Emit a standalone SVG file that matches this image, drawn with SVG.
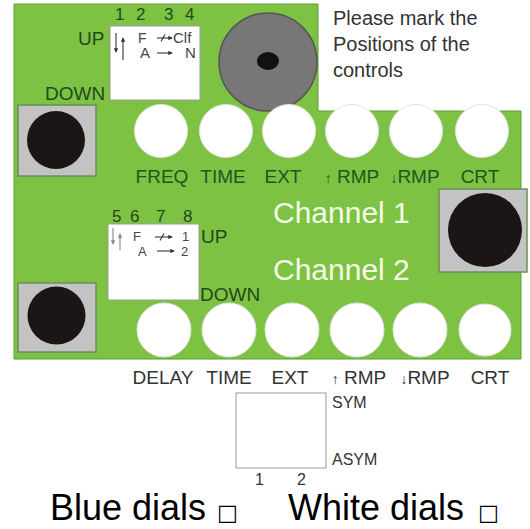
<svg xmlns="http://www.w3.org/2000/svg" width="530" height="529" viewBox="0 0 530 529">
<defs>
<style>
text{font-family:"Liberation Sans",Arial,"DejaVu Sans",sans-serif}
.board{fill:#7dc242;stroke:#5f9e34;stroke-width:1}
.sq{fill:#c3c3c3;stroke:#6b8f55;stroke-width:1.5}
.knob{fill:#1b1515}
.dial{fill:#fff;stroke:#e2e2e2;stroke-width:1}
.lbl1{font-size:19px;fill:#24551f;text-anchor:middle}
.lbl2{font-size:19px;fill:#333;text-anchor:middle}
.sw{fill:#fff;stroke:#9a9a9a;stroke-width:1}
.num{font-size:17px;fill:#1f4a1a}
.tag{font-size:19px;fill:#1f4a1a}
.in{font-size:15px;fill:#444}
.ch{font-size:30px;fill:#f4fbe8}
.sym{font-size:16px;fill:#333}
.note{font-size:20px;fill:#333}
.big{font-size:36px;fill:#000}
.box{font-family:"DejaVu Sans",sans-serif;font-size:22px;fill:#000}
.ar{font-size:14px;font-weight:bold}
.ad{stroke:#333;stroke-width:1.1;fill:none}
.ag{stroke:#888;stroke-width:1.1;fill:none}
</style>
<marker id="ahd" viewBox="0 0 6 6" refX="5" refY="3" markerWidth="4" markerHeight="4" orient="auto"><path d="M0,0 L6,3 L0,6 Z" fill="#333"/></marker>
<marker id="ahg" viewBox="0 0 6 6" refX="5" refY="3" markerWidth="4" markerHeight="4" orient="auto"><path d="M0,0 L6,3 L0,6 Z" fill="#888"/></marker>
</defs>
<rect width="530" height="529" fill="#fff"/>
<g id="board">
<path class="board" d="M14,4 H318 V111 H521 V359 H14 Z"/>
</g>
<g id="note">
<text class="note" x="333" y="25">Please mark the</text>
<text class="note" x="333" y="51">Positions of the</text>
<text class="note" x="333" y="77">controls</text>
</g>
<g id="speaker">
<circle cx="268" cy="62" r="49" fill="#777" stroke="#555" stroke-width="1.5"/>
<ellipse cx="268" cy="61" rx="11" ry="9" fill="#111"/>
</g>
<g id="switch1">
<text class="num" x="115" y="20">1</text>
<text class="num" x="136" y="20">2</text>
<text class="num" x="164" y="20">3</text>
<text class="num" x="185" y="20">4</text>
<text class="tag" x="78" y="45">UP</text>
<text class="tag" x="45" y="100">DOWN</text>
<rect class="sw" x="110" y="26" width="90" height="74"/>
<line class="ad" x1="116" y1="33" x2="116" y2="52" marker-end="url(#ahd)"/>
<line class="ad" x1="123" y1="60" x2="123" y2="38" marker-end="url(#ahd)"/>
<text class="in" x="138" y="43" style="font-size:14px">F</text>
<line class="ad" x1="157" y1="38" x2="172" y2="38" marker-end="url(#ahd)"/>
<line class="ad" x1="161" y1="41.5" x2="165" y2="34.5"/>
<text class="in" x="173" y="43">Clf</text>
<text class="in" x="140" y="58">A</text>
<line class="ad" x1="157" y1="53" x2="172" y2="53" marker-end="url(#ahd)"/>
<text class="in" x="185" y="58">N</text>
</g>
<g id="switch-top-left">
<rect class="sq" x="18" y="105" width="78" height="71"/>
<circle class="knob" cx="56" cy="140" r="29"/>
</g>
<g id="row1">
<circle class="dial" cx="161" cy="131" r="26.5"/>
<circle class="dial" cx="226" cy="131" r="26.5"/>
<circle class="dial" cx="289" cy="131" r="26.5"/>
<circle class="dial" cx="352" cy="131" r="26.5"/>
<circle class="dial" cx="416" cy="131" r="26.5"/>
<circle class="dial" cx="482" cy="131" r="26.5"/>
<text class="lbl1" x="162" y="183">FREQ</text>
<text class="lbl1" x="223" y="183">TIME</text>
<text class="lbl1" x="283" y="183">EXT</text>
<text class="lbl1" x="352" y="183"><tspan class="ar">↑</tspan> RMP</text>
<text class="lbl1" x="415" y="183"><tspan class="ar">↓</tspan>RMP</text>
<text class="lbl1" x="480" y="183">CRT</text>
</g>
<g id="channels">
<text class="ch" x="273" y="223">Channel 1</text>
<text class="ch" x="273" y="280">Channel 2</text>
</g>
<g id="switch-right">
<rect class="sq" x="439" y="189" width="88" height="83"/>
<circle class="knob" cx="485" cy="230" r="37"/>
</g>
<g id="switch2">
<text class="num" x="112" y="222">5</text>
<text class="num" x="130" y="222">6</text>
<text class="num" x="156" y="222">7</text>
<text class="num" x="183" y="222">8</text>
<text class="tag" x="201" y="243">UP</text>
<text class="tag" x="200" y="301">DOWN</text>
<rect class="sw" x="108" y="224" width="91" height="76"/>
<line class="ag" x1="113" y1="228" x2="113" y2="244" marker-end="url(#ahg)"/>
<line class="ag" x1="120" y1="250" x2="120" y2="234" marker-end="url(#ahg)"/>
<text class="in" x="133" y="241" style="font-size:13px">F</text>
<line class="ad" x1="155" y1="237" x2="172" y2="237" marker-end="url(#ahd)"/>
<line class="ad" x1="160" y1="240.5" x2="164" y2="233.5"/>
<text class="in" x="182" y="241" style="font-size:13px">1</text>
<text class="in" x="138" y="256" style="font-size:13px">A</text>
<line class="ad" x1="157" y1="251" x2="174" y2="251" marker-end="url(#ahd)"/>
<text class="in" x="181" y="256" style="font-size:13px">2</text>
</g>
<g id="switch-bottom-left">
<rect class="sq" x="18" y="283" width="78" height="69"/>
<circle class="knob" cx="56.5" cy="315.5" r="29"/>
</g>
<g id="row2">
<circle class="dial" cx="164" cy="330" r="27"/>
<circle class="dial" cx="229" cy="330" r="27"/>
<circle class="dial" cx="292" cy="330" r="27"/>
<circle class="dial" cx="357" cy="330" r="27"/>
<circle class="dial" cx="420" cy="330" r="27"/>
<circle class="dial" cx="485" cy="330" r="26"/>
<text class="lbl2" x="163" y="384">DELAY</text>
<text class="lbl2" x="229" y="384">TIME</text>
<text class="lbl2" x="290" y="384">EXT</text>
<text class="lbl2" x="359" y="384"><tspan class="ar">↑</tspan> RMP</text>
<text class="lbl2" x="425" y="384"><tspan class="ar">↓</tspan>RMP</text>
<text class="lbl2" x="490" y="384">CRT</text>
</g>
<g id="sym-switch">
<rect class="sw" x="236" y="393" width="90" height="75"/>
<text class="sym" x="332" y="408">SYM</text>
<text class="sym" x="332" y="465">ASYM</text>
<text class="sym" x="255" y="485">1</text>
<text class="sym" x="297" y="485">2</text>
</g>
<g id="legend">
<text class="big" x="50" y="520">Blue dials</text>
<text class="box" x="217" y="520">□</text>
<text class="big" x="288" y="520">White dials</text>
<text class="box" x="478" y="520">□</text>
</g>
</svg>
